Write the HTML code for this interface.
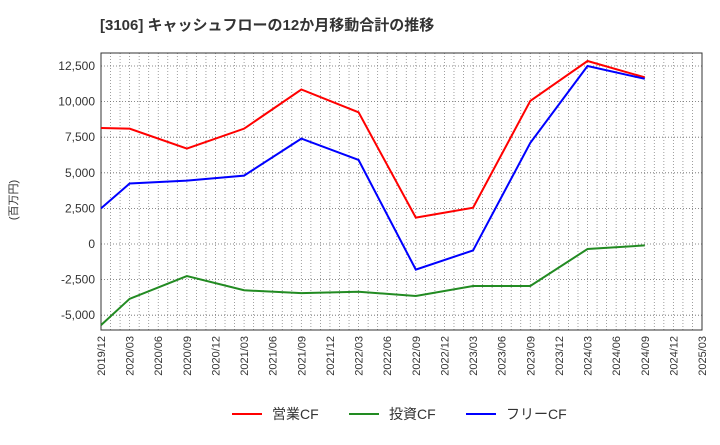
<!DOCTYPE html>
<html><head><meta charset="utf-8"><style>
body{margin:0;background:#fff;font-family:"Liberation Sans","Noto Sans CJK JP",sans-serif;}
</style></head><body>
<svg width="720" height="440" xmlns="http://www.w3.org/2000/svg" id="c">
<text x="100" y="30" font-size="15" font-weight="bold" fill="#333">[3106]  キャッシュフローの12か月移動合計の推移</text>
<text transform="translate(17,200) rotate(-90)" font-size="11" fill="#333" text-anchor="middle">(百万円)</text>
<g id="grid"></g><g id="axes"></g><g id="series"></g>
<g>
<line x1="232" y1="414" x2="262" y2="414" stroke="#f00" stroke-width="2"/><text x="272" y="419" font-size="14" fill="#333">営業CF</text>
<line x1="349" y1="414" x2="379" y2="414" stroke="#228b22" stroke-width="2"/><text x="389" y="419" font-size="14" fill="#333">投資CF</text>
<line x1="466" y1="414" x2="496" y2="414" stroke="#00f" stroke-width="2"/><text x="506" y="419" font-size="14" fill="#333">フリーCF</text>
</g>
</svg>
<script>
const xLabels=["2019/12","2020/03","2020/06","2020/09","2020/12","2021/03","2021/06","2021/09","2021/12","2022/03","2022/06","2022/09","2022/12","2023/03","2023/06","2023/09","2023/12","2024/03","2024/06","2024/09","2024/12","2025/03"];
const yTicks=[12500,10000,7500,5000,2500,0,-2500,-5000];
const dataIdx=[0,1,3,5,7,9,11,13,15,17,19];
const operatingCF=[8150,8100,6700,8100,10850,9250,1850,2550,10050,12850,11700];
const investingCF=[-5700,-3850,-2250,-3250,-3450,-3350,-3650,-2950,-2950,-350,-100];
const freeCF=[2500,4250,4450,4800,7400,5900,-1800,-450,7100,12500,11600];
const L=101,R=702,T=53,B=330;
const X=i=>L+(R-L)*i/21;
const Y=v=>244-v*35.6/2500;
const ns="http://www.w3.org/2000/svg";
function mk(p,t,a){const e=document.createElementNS(ns,t);for(const k in a)e.setAttribute(k,a[k]);document.getElementById(p).appendChild(e);return e;}
for(let m=1;m<63;m++){const x=L+(R-L)*m/63;const e=mk('grid','line',{x1:x,x2:x,y1:T,y2:B,stroke:'#888','stroke-dasharray':'1,2','stroke-width':0.8});

}
yTicks.forEach(v=>{const e=mk('grid','line',{x1:L,x2:R,y1:Y(v),y2:Y(v),stroke:'#666','stroke-dasharray':'1,2','stroke-width':0.8});


const t=mk('axes','text',{x:L-6,y:Y(v)+4,'text-anchor':'end','font-size':12,fill:'#333'});t.textContent=v.toLocaleString('en-US');

});
const fr=mk('axes','rect',{x:L,y:T,width:R-L,height:B-T,fill:'none',stroke:'#333','stroke-width':1});


xLabels.forEach((s,i)=>{const t=mk('axes','text',{transform:`translate(${X(i)+4},${B+6}) rotate(-90)`,'text-anchor':'end','font-size':11,fill:'#333'});t.textContent=s;

});
[[operatingCF,'#f00','operating-cf-line'],[investingCF,'#228b22','investing-cf-line'],[freeCF,'#00f','free-cf-line']].forEach(([d,c,n])=>{
const p=mk('series','polyline',{points:d.map((v,k)=>X(dataIdx[k])+','+Y(v)).join(' '),fill:'none',stroke:c,'stroke-width':2});

});
</script>
</body></html>
